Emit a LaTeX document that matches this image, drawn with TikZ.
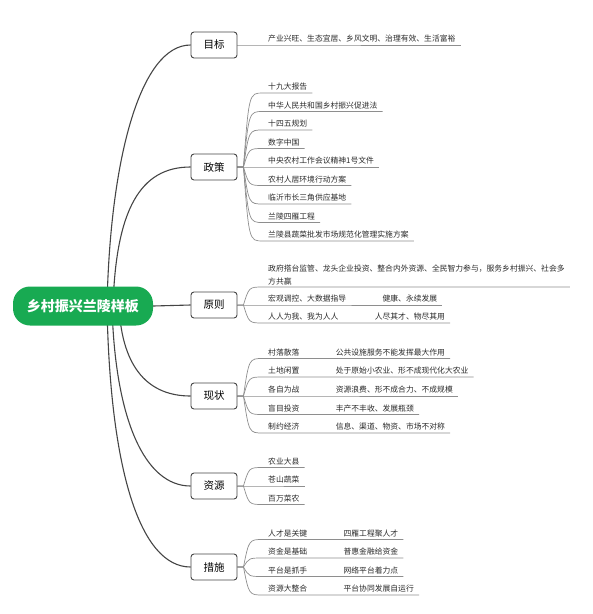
\documentclass[tikz,border=0pt]{standalone}
\usepackage{fontspec}
\setmainfont{Noto Sans CJK SC}
\usetikzlibrary{positioning,backgrounds}
\definecolor{rootgreen}{HTML}{18AA52}
\definecolor{branchgray}{HTML}{454545}
\definecolor{twiggray}{HTML}{8E8E8E}
\definecolor{textgray}{HTML}{2A2A2A}

\begin{document}
\begin{tikzpicture}[
    x=1pt, y=-1pt,
    root/.style={rectangle, rounded corners=17pt, fill=rootgreen, text=white, minimum width=140pt, minimum height=39pt, font=\fontsize{14}{16}\selectfont\bfseries},
    topic/.style={draw=branchgray, line width=0.9pt, fill=white, rectangle, rounded corners=3pt, minimum width=46pt, minimum height=26pt, font=\fontsize{10.5}{12}\selectfont},
    leafbase/.style={anchor=south west, inner xsep=5pt, inner ysep=2pt, text=textgray, font=\fontsize{7.8}{13}\selectfont},
    leaf/.style={leafbase, text height=6.6pt, text depth=1.2pt},
    branch/.style={draw=branchgray, line width=1.1pt},
    twig/.style={draw=twiggray, line width=0.7pt}
]
\useasboundingbox (0,0) rectangle (593,614);

% Root and main topics
\node[root] (root) at (83,306) {乡村振兴兰陵样板};
\node[topic] (mubiao) at (214,45) {目标};
\node[topic] (zhengce) at (214,167) {政策};
\node[topic] (yuanze) at (214,305) {原则};
\node[topic] (xianzhuang) at (214,396) {现状};
\node[topic] (ziyuan) at (214,486) {资源};
\node[topic] (cuoshi) at (214,567) {措施};

% 目标
\node[leaf] (mb1) at (263,45) {产业兴旺、生态宜居、乡风文明、治理有效、生活富裕};

% 政策
\node[leaf] (zc1) at (263,93) {十九大报告};
\node[leaf] (zc2) at (263,111.5) {中华人民共和国乡村振兴促进法};
\node[leaf] (zc3) at (263,130) {十四五规划};
\node[leaf] (zc4) at (263,148.5) {数字中国};
\node[leaf] (zc5) at (263,167) {中央农村工作会议精神1号文件};
\node[leaf] (zc6) at (263,185.5) {农村人居环境行动方案};
\node[leaf] (zc7) at (263,204) {临沂市长三角供应基地};
\node[leaf] (zc8) at (263,222.5) {兰陵四雁工程};
\node[leaf] (zc9) at (263,241) {兰陵县蔬菜批发市场规范化管理实施方案};

% 原则
\node[leafbase, align=left] (yz1) at (263,287) {政府搭台监管、龙头企业投资、整合内外资源、全民智力参与，服务乡村振兴、社会多\\方共赢};
\node[leaf] (yz2) at (263,305) {宏观调控、大数据指导};
\node[leaf, right=26pt of yz2] (yz2b) {健康、永续发展};
\node[leaf] (yz3) at (263,323) {人人为我、我为人人};
\node[leaf, right=26pt of yz3] (yz3b) {人尽其才、物尽其用};

% 现状
\node[leaf] (xz1) at (263,358.5) {村落散落};
\node[leaf, right=26pt of xz1] (xz1b) {公共设施服务不能发挥最大作用};
\node[leaf] (xz2) at (263,377) {土地闲置};
\node[leaf, right=26pt of xz2] (xz2b) {处于原始小农业、形不成现代化大农业};
\node[leaf] (xz3) at (263,396) {各自为战};
\node[leaf, right=26pt of xz3] (xz3b) {资源浪费、形不成合力、不成规模};
\node[leaf] (xz4) at (263,414.5) {盲目投资};
\node[leaf, right=26pt of xz4] (xz4b) {丰产不丰收、发展瓶颈};
\node[leaf] (xz5) at (263,433) {制约经济};
\node[leaf, right=26pt of xz5] (xz5b) {信息、渠道、物资、市场不对称};

% 资源
\node[leaf] (zy1) at (263,467.5) {农业大县};
\node[leaf] (zy2) at (263,486) {苍山蔬菜};
\node[leaf] (zy3) at (263,504.5) {百万菜农};

% 措施
\node[leaf] (cs1) at (263,539.5) {人才是关键};
\node[leaf, right=26pt of cs1] (cs1b) {四雁工程聚人才};
\node[leaf] (cs2) at (263,558) {资金是基础};
\node[leaf, right=26pt of cs2] (cs2b) {普惠金融给资金};
\node[leaf] (cs3) at (263,576.5) {平台是抓手};
\node[leaf, right=26pt of cs3] (cs3b) {网络平台着力点};
\node[leaf] (cs4) at (263,595) {资源大整合};
\node[leaf, right=26pt of cs4] (cs4b) {平台协同发展自运行};

\begin{scope}[on background layer]
% Root to topics
\draw[branch] ([xshift=24pt]root.center) .. controls (110,160) and (140,45) .. (mubiao.west);
\draw[branch] ([xshift=30pt]root.center) .. controls (116,210) and (140,167) .. (zhengce.west);
\draw[branch] (root.east) -- (yuanze.west);
\draw[branch] ([xshift=36pt]root.center) .. controls (122,370) and (150,396) .. (xianzhuang.west);
\draw[branch] ([xshift=29pt]root.center) .. controls (115,420) and (145,486) .. (ziyuan.west);
\draw[branch] ([xshift=24pt]root.center) .. controls (110,470) and (140,567) .. (cuoshi.west);

% 目标
\draw[twig] (mubiao.east) -- (mb1.south west) -- (mb1.south east);

% 政策
\draw[twig] (zhengce.east) -- ++(6,0) .. controls ([xshift=-14pt]zc1.south west) .. (zc1.south west) -- (zc1.south east);
\draw[twig] (zhengce.east) -- ++(6,0) .. controls ([xshift=-14pt]zc2.south west) .. (zc2.south west) -- (zc2.south east);
\draw[twig] (zhengce.east) -- ++(6,0) .. controls ([xshift=-14pt]zc3.south west) .. (zc3.south west) -- (zc3.south east);
\draw[twig] (zhengce.east) -- ++(6,0) .. controls ([xshift=-14pt]zc4.south west) .. (zc4.south west) -- (zc4.south east);
\draw[twig] (zhengce.east) -- (zc5.south west) -- (zc5.south east);
\draw[twig] (zhengce.east) -- ++(6,0) .. controls ([xshift=-14pt]zc6.south west) .. (zc6.south west) -- (zc6.south east);
\draw[twig] (zhengce.east) -- ++(6,0) .. controls ([xshift=-14pt]zc7.south west) .. (zc7.south west) -- (zc7.south east);
\draw[twig] (zhengce.east) -- ++(6,0) .. controls ([xshift=-14pt]zc8.south west) .. (zc8.south west) -- (zc8.south east);
\draw[twig] (zhengce.east) -- ++(6,0) .. controls ([xshift=-14pt]zc9.south west) .. (zc9.south west) -- (zc9.south east);

% 原则
\draw[twig] (yuanze.east) -- ++(6,0) .. controls ([xshift=-14pt]yz1.south west) .. (yz1.south west) -- (yz1.south east);
\draw[twig] (yuanze.east) -- (yz2.south west) -- (yz2b.south east);
\draw[twig] (yuanze.east) -- ++(6,0) .. controls ([xshift=-14pt]yz3.south west) .. (yz3.south west) -- (yz3b.south east);

% 现状
\draw[twig] (xianzhuang.east) -- ++(6,0) .. controls ([xshift=-14pt]xz1.south west) .. (xz1.south west) -- (xz1b.south east);
\draw[twig] (xianzhuang.east) -- ++(6,0) .. controls ([xshift=-14pt]xz2.south west) .. (xz2.south west) -- (xz2b.south east);
\draw[twig] (xianzhuang.east) -- (xz3.south west) -- (xz3b.south east);
\draw[twig] (xianzhuang.east) -- ++(6,0) .. controls ([xshift=-14pt]xz4.south west) .. (xz4.south west) -- (xz4b.south east);
\draw[twig] (xianzhuang.east) -- ++(6,0) .. controls ([xshift=-14pt]xz5.south west) .. (xz5.south west) -- (xz5b.south east);

% 资源
\draw[twig] (ziyuan.east) -- ++(6,0) .. controls ([xshift=-14pt]zy1.south west) .. (zy1.south west) -- (zy1.south east);
\draw[twig] (ziyuan.east) -- (zy2.south west) -- (zy2.south east);
\draw[twig] (ziyuan.east) -- ++(6,0) .. controls ([xshift=-14pt]zy3.south west) .. (zy3.south west) -- (zy3.south east);

% 措施
\draw[twig] (cuoshi.east) -- ++(6,0) .. controls ([xshift=-14pt]cs1.south west) .. (cs1.south west) -- (cs1b.south east);
\draw[twig] (cuoshi.east) -- ++(6,0) .. controls ([xshift=-14pt]cs2.south west) .. (cs2.south west) -- (cs2b.south east);
\draw[twig] (cuoshi.east) -- ++(6,0) .. controls ([xshift=-14pt]cs3.south west) .. (cs3.south west) -- (cs3b.south east);
\draw[twig] (cuoshi.east) -- ++(6,0) .. controls ([xshift=-14pt]cs4.south west) .. (cs4.south west) -- (cs4b.south east);
\end{scope}
\end{tikzpicture}
\end{document}
